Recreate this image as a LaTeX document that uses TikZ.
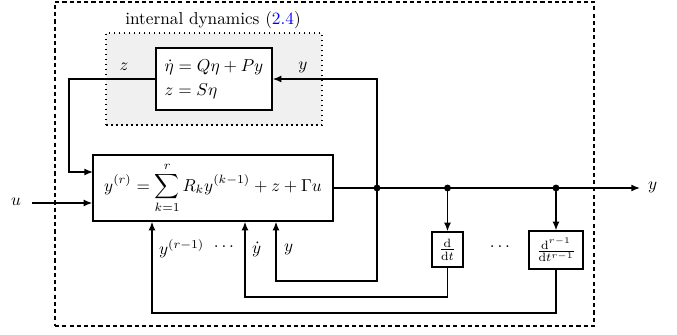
\documentclass[tikz,border=0pt]{standalone}
\usetikzlibrary{arrows.meta}
\begin{document}
\begin{tikzpicture}[x=0.58pt,y=-0.58pt,
  blk/.style={draw,line width=0.8pt,fill=white,inner sep=2pt},
  conn/.style={line width=0.8pt},
  arr/.style={line width=0.8pt,-{Latex[length=5pt,width=4pt]}},
  jdot/.style={circle,fill,inner sep=0pt,minimum size=4pt},
  lbl/.style={inner sep=1pt}]
\useasboundingbox (0,0) rectangle (677,335);
% outer dashed
\node[draw,dashed,line width=0.7pt,dash pattern=on 2.4pt off 1.8pt,minimum width=312.6pt,minimum height=187.9pt,inner sep=0pt] (outer) at (324.5,164) {};
% gray dotted
\node[draw,dotted,line width=0.9pt,fill=black!6,minimum width=125.3pt,minimum height=53.4pt,inner sep=0pt] (internal) at (214,79) {};
\node[lbl] (title) at (213,20) {internal dynamics (\textcolor{blue}{2.4})};
\node[blk,minimum width=67.3pt,minimum height=36pt,align=left] (dyn) at (214,79) {$\dot\eta = Q\eta + Py$\\[2pt]$z = S\eta$};
\node[blk,minimum width=139.2pt,minimum height=38.3pt] (main) at (213,188) {$\displaystyle y^{(r)} = \sum_{k=1}^{r} R_k y^{(k-1)} + z + \Gamma u$};
\node[blk,minimum width=18pt,minimum height=20.3pt,inner sep=1pt] (d1) at (447.5,249.5) {$\frac{\mathrm{d}}{\mathrm{d}t}$};
\node[blk,minimum width=31.3pt,minimum height=22pt,inner sep=1pt] (dr) at (556,250) {$\frac{\mathrm{d}^{r-1}}{\mathrm{d}t^{r-1}}$};
\node[lbl] (mdots) at (500,247) {$\dots$};
% junctions
\node[jdot] (j1) at (377,188) {};
\node[jdot] (j2) at (447.5,188) {};
\node[jdot] (j3) at (556,188) {};
\coordinate (yend) at (640,188);
\node[lbl,anchor=west] (ylab) at (646,187) {$y$};
\coordinate (uin) at (32,203);
\node[lbl] (ulab) at (16,202) {$u$};
\coordinate (zc) at (69,79);
\coordinate (zin) at (93,172);
\coordinate (c1) at (377,281);
\coordinate (c2) at (447.5,297);
\coordinate (c3) at (556,313);
\coordinate (a1) at (276,0);
\coordinate (a2) at (245,0);
\coordinate (a3) at (152,0);
% labels
\node[lbl] (zlab) at (124,67) {$z$};
\node[lbl] (ylab2) at (303,67) {$y$};
\node[lbl,anchor=west] (l3) at (157,249) {$y^{(r-1)}$};
\node[lbl] (ldots) at (224,247) {$\dots$};
\node[lbl,anchor=west] (l2) at (250,249) {$\dot y$};
\node[lbl,anchor=west] (l1) at (282,249) {$y$};
% connectors
\draw[arr] (main.east) -- (yend);
\draw[arr] (uin) -- (main.west |- uin);
\draw[arr] (dyn.west) -- (zc) |- (zin);
\draw[arr] (j1.center) |- (dyn.east);
\draw[arr] (j1.center) -- (c1) -| (a1 |- main.south);
\draw[arr] (j2.center) -- (d1.north);
\draw[arr] (j3.center) -- (dr.north);
\draw[arr] (d1.south) -- (c2) -| (a2 |- main.south);
\draw[arr] (dr.south) -- (c3) -| (a3 |- main.south);
\end{tikzpicture}
\end{document}
